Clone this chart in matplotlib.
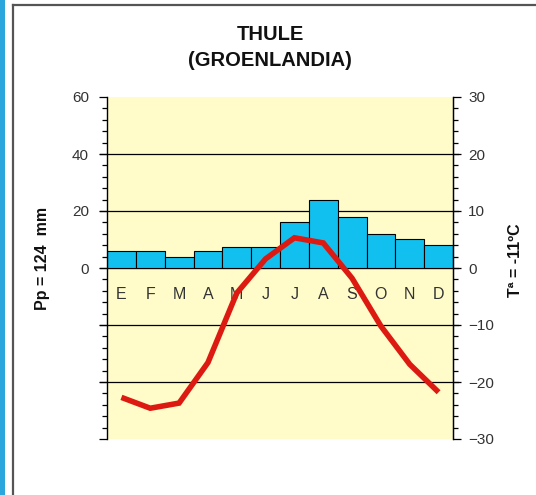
import matplotlib
matplotlib.use("Agg")
import matplotlib.pyplot as plt
from matplotlib.lines import Line2D
from matplotlib.patches import Rectangle
from matplotlib.ticker import MultipleLocator, FixedLocator

plt.rcParams['font.family'] = ['Liberation Sans', 'DejaVu Sans']

# climate data for Thule (Greenland)
months = ["E", "F", "M", "A", "M", "J", "J", "A", "S", "O", "N", "D"]
precip = [6, 6, 4, 6, 7.4, 7.4, 16, 24, 18, 12, 10.2, 8.2]        # mm
temp = [-22.7, -24.6, -23.7, -16.6, -4.4, 1.6, 5.3, 4.4, -1.8, -10.2, -16.9, -21.8]  # ºC
title1 = "THULE"
title2 = "(GROENLANDIA)"
pp_label = "Pp = 124  mm"
t_label = "Tª = -11ºC"

W, H = 536, 495
fig = plt.figure(figsize=(W / 100, H / 100), dpi=100)

# screenshot decorations: blue strip and gray frame
fig.add_artist(Rectangle((0, 0), 5 / W, 1, transform=fig.transFigure,
                         color="#2aa6dc", lw=0))
fig.add_artist(Line2D([13 / W, 13 / W], [0, 1 - 5 / H], transform=fig.transFigure,
                      color="#555555", lw=1.6))
fig.add_artist(Line2D([13 / W, 1], [1 - 5 / H, 1 - 5 / H], transform=fig.transFigure,
                      color="#555555", lw=1.6))

left, right, top, bottom = 107, 453, 97, 439
ax = fig.add_axes([left / W, 1 - bottom / H, (right - left) / W, (bottom - top) / H])
ax.set_facecolor("#fffcc9")
ax.set_xlim(-0.5, 11.5)
ax.set_ylim(-60, 60)

x = list(range(12))

# horizontal guide lines (slightly wider than the plot)
for yv in [40, 20, 0, -20, -40]:
    ax.axhline(yv, xmin=-0.02, xmax=1.015, color="black", lw=0.9,
               clip_on=False, zorder=1)

ax.bar(x, precip, width=1.0, color="#12c0f0", edgecolor="black", lw=0.8, zorder=2)

for i, m in enumerate(months):
    ax.text(i, -9.2, m, ha="center", va="center", fontsize=11.5, color="#333333",
            zorder=3)

for s in ["top", "bottom"]:
    ax.spines[s].set_visible(False)
ax.spines["left"].set_linewidth(1.0)
ax.set_xticks([])
ax.yaxis.set_major_locator(FixedLocator([-60, -40, -20, 0, 20, 40, 60]))
ax.yaxis.set_minor_locator(MultipleLocator(4))
ax.set_yticklabels(["", "", "", "0", "20", "40", "60"])
ax.tick_params(axis="y", which="major", length=6, width=0.9, pad=7,
               labelsize=11, labelcolor="#333333")
ax.tick_params(axis="y", which="minor", length=3.5, width=0.9)

ax2 = ax.twinx()
ax2.set_ylim(-30, 30)
ax2.plot(x, temp, color="#dd1a12", lw=4, solid_capstyle="butt",
         solid_joinstyle="miter", zorder=4)
for s in ["top", "bottom", "left"]:
    ax2.spines[s].set_visible(False)
ax2.spines["right"].set_linewidth(1.0)
ax2.yaxis.set_major_locator(MultipleLocator(10))
ax2.yaxis.set_minor_locator(MultipleLocator(2))
ax2.tick_params(axis="y", which="major", length=6, width=0.9, pad=5,
                labelsize=11, labelcolor="#333333")
ax2.tick_params(axis="y", which="minor", length=3.5, width=0.9)

fig.text(270 / W, 1 - 34 / H, title1, ha="center", va="center",
         fontsize=14.5, fontweight="bold", color="#111111")
fig.text(270 / W, 1 - 60 / H, title2, ha="center", va="center",
         fontsize=14.5, fontweight="bold", color="#111111")
fig.text(42 / W, 1 - 258 / H, pp_label, rotation=90, ha="center", va="center",
         fontsize=11.5, fontweight="bold", color="#111111")
fig.text(515 / W, 1 - 260 / H, t_label, rotation=90, ha="center", va="center",
         fontsize=11.5, fontweight="bold", color="#111111")

fig.savefig("out.png", dpi=100, facecolor="white")
